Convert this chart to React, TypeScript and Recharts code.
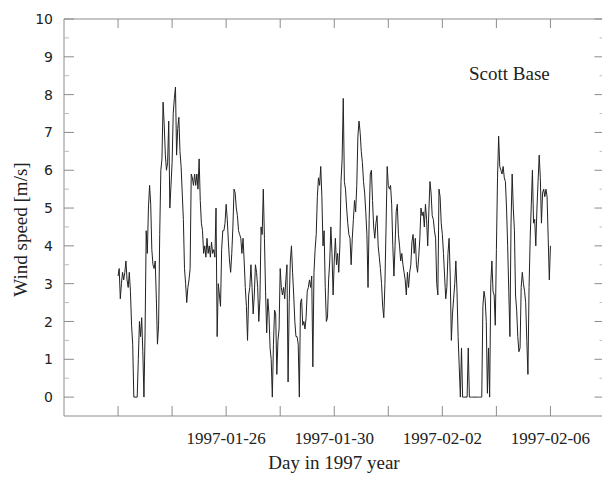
import { Line, LineChart, ReferenceLine, XAxis, YAxis } from 'recharts'

// hourly wind speed [m/s], first value sits at hour 48 of the time axis
const firstHour = 48

const speedsA = [
  3.2, 3.4, 2.6, 3.0, 3.3, 3.1, 3.3, 3.6, 3.1, 2.9, 3.3, 2.8, 1.9, 1.4, 0, 0, 0, 0, 1.0, 2.0, 1.6, 2.1, 1.2,
]

const speedsB = [
  0, 1.7, 4.4, 3.8, 5.0, 5.6, 5.1, 3.9, 3.5, 3.4, 3.6, 2.6, 1.4, 1.9, 4.3, 6.0, 6.3, 7.8, 7.2, 6.4,
  6.0, 6.2, 7.3, 5.0, 5.6, 6.2, 7.5, 7.9, 8.2, 6.4, 7.1, 7.4, 6.5, 6.1, 5.4, 4.7, 3.4, 3.0, 2.5, 2.9,
  3.1, 3.4, 5.9, 5.8, 5.6, 5.9, 5.6, 5.9, 5.5, 6.3, 5.2, 4.6, 4.4, 3.8, 4.0, 3.7, 4.2, 3.8, 4.0, 3.7,
  4.1, 3.8, 3.9, 3.7, 5.0, 1.6, 3.0, 2.7, 2.4, 3.9, 4.4, 4.4, 4.6, 5.1, 4.7, 4.1, 3.6, 3.3, 3.8, 4.5,
  5.5, 5.4, 5.0, 4.8, 4.4, 4.3, 4.2, 3.8, 4.2, 3.6, 2.9, 2.4, 1.5, 2.7, 2.9, 3.5, 2.9, 2.2, 2.7, 3.5,
  3.3, 2.9, 2.0, 2.6, 4.5, 4.3, 5.5, 4.2, 2.8, 1.7, 2.6, 2.2,
]

const speedsC = [
  1.3, 1.0, 0.0, 1.4, 2.3, 2.2, 0.6, 1.5, 1.8, 3.4, 2.9, 2.7, 2.9, 2.6, 3.1, 3.5, 0.4, 2.5, 3.6, 4.0,
  3.3, 2.7, 2.0, 1.6, 1.6, 1.4, 0.0, 2.5, 2.6, 1.9, 2.0, 1.8, 2.1, 2.8, 2.9, 3.1, 2.9, 3.2, 0.8, 3.3,
  3.9, 4.3, 5.3, 5.8, 5.6, 6.1, 5.3, 4.0, 4.4, 2.9, 2.0, 2.1, 3.1, 3.6, 4.5, 3.8, 2.7, 3.6, 4.2, 3.5,
  3.8, 3.3, 4.0, 5.7, 6.3, 7.9, 5.7, 5.5, 5.0, 4.6, 4.3, 4.2, 3.5, 4.2, 4.7, 5.2, 4.9, 5.6, 6.9, 7.3,
  7.0, 6.5, 6.2, 5.7, 5.4, 4.9, 4.3, 2.9, 4.7, 5.9, 6.0, 5.2, 4.5, 4.2, 4.6, 4.8, 4.0, 3.7, 3.4, 3.0,
  2.4, 2.1, 3.0, 4.5, 6.1, 5.6, 5.5, 5.6, 5.1, 4.0, 3.2, 4.0, 4.9, 5.1, 4.3, 4.0, 3.6, 3.8, 3.5, 3.3,
  3.1, 2.7, 3.3, 2.9, 3.3, 3.5, 4.1, 4.3, 3.8, 4.2, 3.5, 3.3, 3.7,
]

const speedsD = [
  4.2, 5.0, 4.8, 4.9, 4.5, 5.1, 4.7, 4.0, 4.9, 5.7, 5.4, 4.8, 4.7, 4.4, 4.2, 3.0, 2.7, 5.5, 5.3, 4.6,
  4.3, 3.8, 3.2, 2.6, 2.9, 3.8, 4.2, 3.2, 1.5, 2.2, 2.6, 3.0, 3.6, 2.8, 1.6, 0.8, 0, 1.3, 0, 0,
  0, 0, 0, 1.3, 0, 0, 0, 0, 0, 0, 0, 0, 0, 0, 0, 0, 2.4, 2.8, 2.6, 2.0,
  0.1, 1.3, 0, 3.0, 3.6, 2.8, 2.7, 1.9, 3.9, 5.8, 6.9, 6.1, 6.0, 5.9, 6.1, 5.8, 5.7, 5.0, 4.0, 2.8,
  1.6, 4.6, 5.9, 5.0, 4.4, 2.7, 2.3, 1.6, 1.2, 1.3, 2.9, 3.3, 3.0, 2.8, 2.5, 1.5, 0.6, 2.9, 4.2, 5.1,
  6.0, 4.6, 4.7, 4.0, 5.0, 5.7, 6.4, 5.8, 4.6, 5.4, 5.5, 5.3, 5.5, 5.3, 4.2, 3.1, 4.0,
]

const xTicks = [48, 96, 144, 192, 240, 288, 336, 384, 432]
const xTickLabels = ['', '', '1997-01-26', '', '1997-01-30', '', '1997-02-02', '', '1997-02-06']
const yTicks = [0, 0.5, 1, 1.5, 2, 2.5, 3, 3.5, 4, 4.5, 5, 5.5, 6, 6.5, 7, 7.5, 8, 8.5, 9, 9.5, 10]

const X_MAX = 480
const Y_MIN = -0.5
const Y_MAX = 10

const data = [...speedsA, ...speedsB, ...speedsC, ...speedsD].map((speed, i) => ({
  hour: firstHour + i,
  speed,
}))

const FRAME = '#8c8c8c'
const MINOR = '#bbb'
const SERIF = '"Liberation Serif", "Times New Roman", serif'
const SANS = '"DejaVu Sans", Verdana, sans-serif'

function BottomTick({ x, y, payload }: any) {
  const label = xTickLabels[xTicks.indexOf(payload.value)] ?? ''
  return (
    <g>
      <line x1={x} x2={x} y1={y} y2={y - 10} stroke={FRAME} />
      {label && (
        <text x={x} y={y + 28} textAnchor="middle" fontFamily={SERIF} fontSize={17} fill="#222">
          {label}
        </text>
      )}
    </g>
  )
}

function LeftTick({ x, y, payload }: any) {
  const major = Number.isInteger(payload.value)
  return (
    <g>
      <line x1={x} x2={x + (major ? 10 : 5)} y1={y} y2={y} stroke={major ? FRAME : MINOR} />
      {major && (
        <text x={x - 11} y={y} dy="0.36em" textAnchor="end" fontFamily={SANS} fontSize={14} fill="#222">
          {payload.value}
        </text>
      )}
    </g>
  )
}

const titleStyle = {
  position: 'absolute' as const,
  fontFamily: SERIF,
  fontSize: 19,
  lineHeight: '19px',
  color: '#222',
  whiteSpace: 'nowrap' as const,
}

export default function App() {
  return (
    <div style={{ position: 'absolute', left: 0, top: 0, width: 602, height: 478, overflow: 'hidden', background: '#fff' }}>
      {/* the plot's right edge falls just outside the picture, so the right margin is negative */}
      <LineChart width={602} height={478} data={data} margin={{ top: 19, right: -2.5, bottom: 0, left: 0 }}>
        <XAxis
          dataKey="hour"
          type="number"
          domain={[0, X_MAX]}
          ticks={xTicks}
          interval={0}
          allowDataOverflow
          height={62}
          tickSize={0}
          tickMargin={0}
          axisLine={{ stroke: FRAME }}
          tick={<BottomTick />}
        />
        <YAxis
          type="number"
          domain={[Y_MIN, Y_MAX]}
          ticks={yTicks}
          interval={0}
          allowDataOverflow
          width={64}
          tickSize={0}
          tickMargin={0}
          axisLine={{ stroke: FRAME }}
          tick={<LeftTick />}
        />
        <ReferenceLine y={Y_MAX} stroke={FRAME} ifOverflow="visible" />
        <ReferenceLine x={X_MAX} stroke={FRAME} ifOverflow="visible" />
        {xTicks.map((t) => (
          <ReferenceLine
            key={`top-${t}`}
            segment={[
              { x: t, y: Y_MAX },
              { x: t, y: Y_MAX - 0.24 },
            ]}
            stroke={FRAME}
            ifOverflow="visible"
          />
        ))}
        {yTicks.map((v) => (
          <ReferenceLine
            key={`right-${v}`}
            segment={[
              { x: X_MAX, y: v },
              { x: X_MAX - (Number.isInteger(v) ? 8.9 : 4.4), y: v },
            ]}
            stroke={Number.isInteger(v) ? FRAME : MINOR}
            ifOverflow="visible"
          />
        ))}
        <Line
          type="linear"
          dataKey="speed"
          stroke="#222"
          strokeWidth={1}
          dot={false}
          activeDot={false}
          isAnimationActive={false}
        />
      </LineChart>
      <div style={{ ...titleStyle, left: 469, top: 64 }}>Scott Base</div>
      <div style={{ ...titleStyle, left: 234, top: 453, width: 200, textAlign: 'center' }}>Day in 1997 year</div>
      <div
        style={{
          ...titleStyle,
          left: -80,
          top: 220,
          width: 200,
          height: 19,
          textAlign: 'center',
          transform: 'rotate(-90deg)',
          transformOrigin: '50% 50%',
        }}
      >
        Wind speed [m/s]
      </div>
    </div>
  )
}
